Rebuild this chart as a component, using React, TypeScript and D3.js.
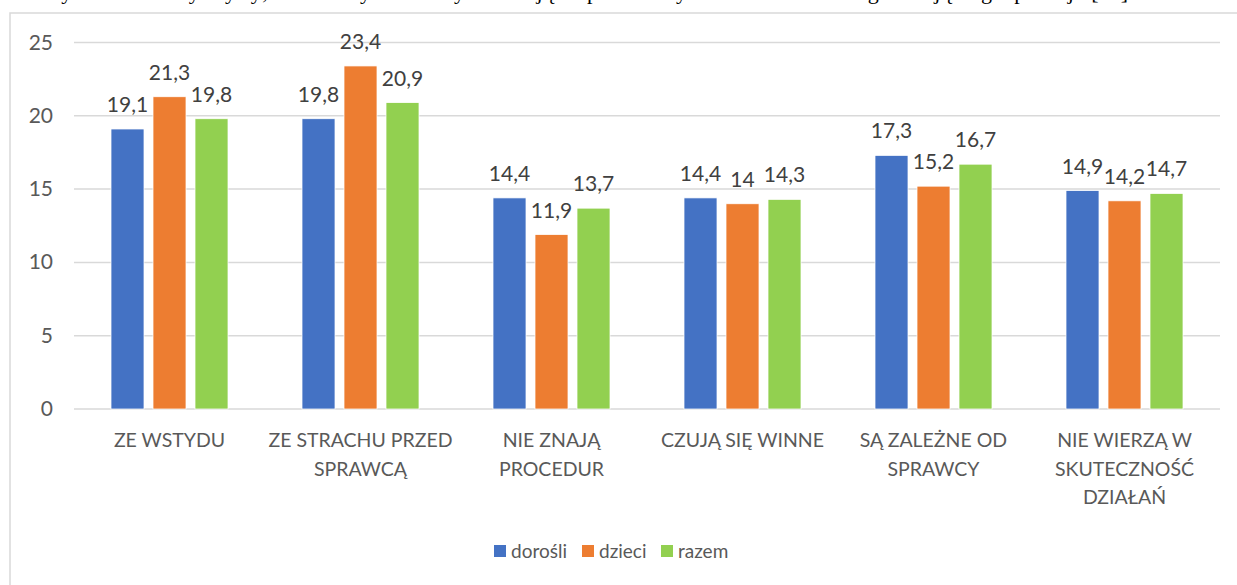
import React from "react";
import * as d3 from "d3";

const categories: string[][] = [
  ["ZE WSTYDU"],
  ["ZE STRACHU PRZED", "SPRAWCĄ"],
  ["NIE ZNAJĄ", "PROCEDUR"],
  ["CZUJĄ SIĘ WINNE"],
  ["SĄ ZALEŻNE OD", "SPRAWCY"],
  ["NIE WIERZĄ W", "SKUTECZNOŚĆ", "DZIAŁAŃ"],
];
const seriesNames = ["dorośli", "dzieci", "razem"];
const dorosli = [19.1, 19.8, 14.4, 14.4, 17.3, 14.9];
const dzieci = [21.3, 23.4, 11.9, 14, 15.2, 14.2];
const razem = [19.8, 20.9, 13.7, 14.3, 16.7, 14.7];
const yTicks = [0, 5, 10, 15, 20, 25];
const titleText =
  "Wykres 4. Przyczyny, dla których osoby doznające przemocy w rodzinie nie zgłaszają tego policji [%]";

const colors = ["#4472C4", "#ED7D31", "#92D050"];
const W = 1237;
const H = 585;
const FONT = "Lato, 'Open Sans', sans-serif";

export default function App() {
  const series = [dorosli, dzieci, razem];
  const y = d3.scaleLinear().domain([0, 25]).range([409, 42.5]);
  const x = d3
    .scaleBand<number>()
    .domain(categories.map((_, i) => i))
    .range([74, 1220])
    .paddingInner(0)
    .paddingOuter(0);
  const barW = 33;
  const step = 42;
  const fmt = (v: number) => String(v).replace(".", ",");

  return (
    <div style={{ position: "absolute", left: 0, top: 0 }}>
      <svg width={W} height={H} style={{ display: "block", background: "#fff" }}>
        <text
          x={40}
          y={-1}
          fontFamily="'Liberation Serif', serif"
          fontSize={22}
          fill="#000"
          textLength={1088}
          lengthAdjust="spacing"
        >
          {titleText}
        </text>
        <rect x={10} y={13} width={1300} height={700} fill="none" stroke="#d9d9d9" strokeWidth={1.5} />
        {yTicks.map((t) => (
          <g key={t}>
            <line x1={74} x2={1220} y1={y(t)} y2={y(t)} stroke="#d9d9d9" strokeWidth={1.5} />
            <text
              x={53}
              y={y(t) + 7}
              textAnchor="end"
              fontFamily={FONT}
              fontSize={21}
              fill="#595959"
            >
              {t}
            </text>
          </g>
        ))}
        {categories.map((cat, i) => {
          const cx = (x(i) as number) + x.bandwidth() / 2;
          return (
            <g key={i}>
              {series.map((s, j) => {
                const bx = cx + (j - 1) * step - barW / 2;
                return (
                  <g key={j}>
                    <rect
                      x={bx}
                      y={y(s[i])}
                      width={barW}
                      height={y(0) - y(s[i])}
                      fill={colors[j]}
                      stroke="#fff"
                      strokeWidth={0.75}
                    />
                    <text
                      x={bx + barW / 2}
                      y={y(s[i]) - 17}
                      textAnchor="middle"
                      fontFamily={FONT}
                      fontSize={21}
                      fill="#404040"
                    >
                      {fmt(s[i])}
                    </text>
                  </g>
                );
              })}
              {cat.map((line, k) => (
                <text
                  key={k}
                  x={cx}
                  y={447 + k * 28.5}
                  textAnchor="middle"
                  fontFamily={FONT}
                  fontSize={19.5}
                  fill="#595959"
                >
                  {line}
                </text>
              ))}
            </g>
          );
        })}
        {(() => {
          const xs = [494, 582, 661];
          return seriesNames.map((n, j) => (
            <g key={n}>
              <rect x={xs[j]} y={545} width={12} height={12} fill={colors[j]} />
              <text x={xs[j] + 17} y={558} fontFamily={FONT} fontSize={19} fill="#595959">
                {n}
              </text>
            </g>
          ));
        })()}
      </svg>
    </div>
  );
}
